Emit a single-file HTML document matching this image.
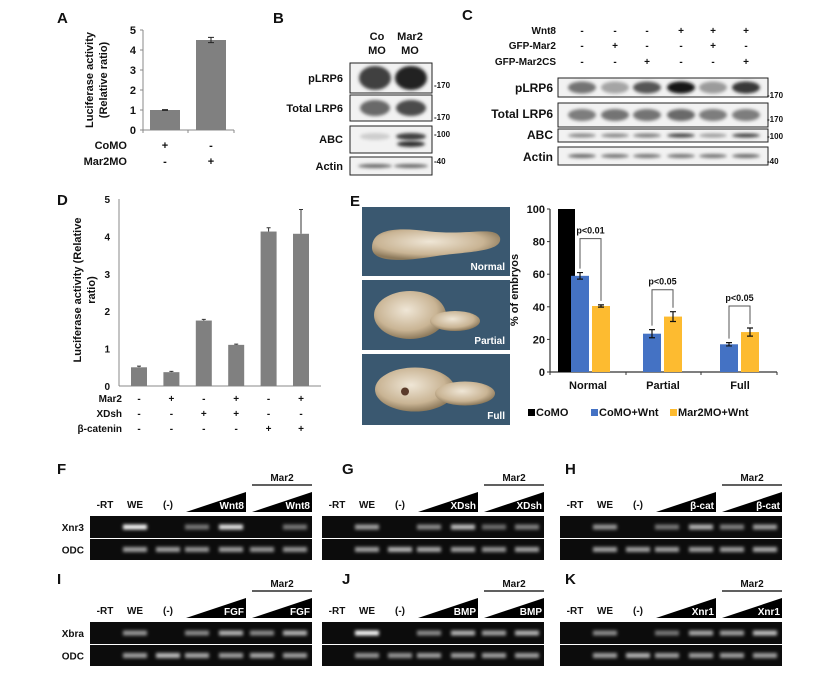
<!DOCTYPE html>
<html><head><meta charset="utf-8"><style>
body{margin:0;background:#fff}
svg{display:block;font-family:"Liberation Sans",Arial,sans-serif;font-weight:bold}
</style></head><body>
<svg id="fig" width="837" height="676" viewBox="0 0 837 676" xmlns="http://www.w3.org/2000/svg">
<defs>
<filter id="blur1" x="-30%" y="-80%" width="160%" height="260%"><feGaussianBlur stdDeviation="1.6"/></filter>
<filter id="blur2" x="-30%" y="-80%" width="160%" height="260%"><feGaussianBlur stdDeviation="1.5"/></filter>
<radialGradient id="emb" cx="45%" cy="40%" r="60%"><stop offset="0" stop-color="#efe6d6"/><stop offset="0.7" stop-color="#c9b494"/><stop offset="1" stop-color="#8d7a5c"/></radialGradient>
</defs>
<g id="panelA"></g>
<g id="panelB"></g>
<g id="panelC"></g>
<g id="panelD"></g>
<g id="panelE"></g>
<g id="gels"></g>
</svg>
<script>
// ---- Panel A data
const aCats = ["CoMO","Mar2MO"];
const aVals = [1.0, 4.5];
const aErr = [0.02, 0.13];
const aTicks = [0,1,2,3,4,5];
// ---- Panel D data
const dVals = [0.5, 0.37, 1.75, 1.1, 4.13, 4.07];
const dErr = [0.03, 0.02, 0.03, 0.02, 0.1, 0.65];
const dTicks = [0,1,2,3,4,5];
const dRows = ["Mar2","XDsh","β-catenin"];
const dSigns = [["-","+","-","+","-","+"],["-","-","+","+","-","-"],["-","-","-","-","+","+"]];
// ---- Panel E data
const eCats = ["Normal","Partial","Full"];
const eSeries = ["CoMO","CoMO+Wnt","Mar2MO+Wnt"];
const eCoMO = [100, null, null];
const eCoWnt = [59, 23.5, 17];
const eMarWnt = [40.5, 34, 24.5];
const eCoWntErr = [2, 2.5, 1];
const eMarWntErr = [0.7, 3, 2.5];
const ePvals = ["p<0.01","p<0.05","p<0.05"];
const eTicks = [0,20,40,60,80,100];
// ---- Gel data (band intensities per lane)
const gelF_top = [0,0.95,0,0.3,0.85,0,0.3];
const gelF_odc = [0,0.5,0.5,0.45,0.5,0.45,0.45];
const gelG_top = [0,0.5,0,0.4,0.65,0.25,0.35];
const gelG_odc = [0,0.5,0.6,0.55,0.5,0.45,0.5];
const gelH_top = [0,0.45,0,0.3,0.6,0.35,0.5];
const gelH_odc = [0,0.5,0.5,0.5,0.5,0.5,0.55];
const gelI_top = [0,0.45,0,0.4,0.6,0.4,0.6];
const gelI_odc = [0,0.5,0.65,0.55,0.5,0.55,0.5];
const gelJ_top = [0,0.95,0,0.4,0.6,0.5,0.6];
const gelJ_odc = [0,0.45,0.45,0.5,0.5,0.5,0.5];
const gelK_top = [0,0.4,0,0.3,0.55,0.5,0.65];
const gelK_odc = [0,0.5,0.6,0.5,0.5,0.5,0.5];
// ---- Western data (band darkness per lane)
const bP = [0.8,0.95]; const bT=[0.6,0.75]; const bA=[0.1,0.8]; const bAct=[0.6,0.6];
const cP = [0.55,0.3,0.7,1.0,0.35,0.85];
const cT = [0.5,0.55,0.55,0.6,0.5,0.5];
const cA = [0.45,0.45,0.5,0.8,0.35,0.8];
const cAct = [0.6,0.55,0.55,0.55,0.55,0.6];
const cWnt = ["-","-","-","+","+","+"];
const cGfp = ["-","+","-","-","+","-"];
const cCs = ["-","-","+","-","-","+"];

const NS="http://www.w3.org/2000/svg";
function mk(parent,tag,attrs,txt){const e=document.createElementNS(NS,tag);for(const k in attrs)e.setAttribute(k,attrs[k]);if(txt!==undefined)e.textContent=txt;parent.appendChild(e);return e;}
function T(parent,x,y,s,size,anchor,name,extra){const e=mk(parent,'text',Object.assign({x:x,y:y,'font-size':size,'text-anchor':anchor||'start',fill:'#111'},extra||{}),s);


return e;}

// ================= Panel A
(function(){
const g=document.getElementById('panelA');
const y0=130, k=20, x0=143;
const yA=v=>y0-k*v;
const xA=i=>165+i*46;
T(g,57,23,"A",15,'start','panel-label-a');
mk(g,'line',{x1:x0,y1:yA(5),x2:x0,y2:y0,stroke:'#888','stroke-width':1});
mk(g,'line',{x1:x0,y1:y0,x2:234,y2:y0,stroke:'#888','stroke-width':1});
aTicks.forEach(t=>{mk(g,'line',{x1:x0-3,y1:yA(t),x2:x0,y2:yA(t),stroke:'#888'});
T(g,x0-7,yA(t)+4,String(t),11,'end','y-tick-label-a');});
[143,188,234].forEach(x=>mk(g,'line',{x1:x,y1:y0,x2:x,y2:y0+3,stroke:'#888'}));
aVals.forEach((v,i)=>{const r=mk(g,'rect',{x:xA(i)-15,y:yA(v),width:30,height:k*v,fill:'#808080'});


const e=aErr[i];mk(g,'path',{d:`M${xA(i)-3},${yA(v+e)}H${xA(i)+3}M${xA(i)},${yA(v+e)}V${yA(v-e)}M${xA(i)-3},${yA(v-e)}H${xA(i)+3}`,stroke:'#222',fill:'none'});});
T(g,0,0,"Luciferase activity",11,'middle','y-axis-title-a',{transform:'translate(93,80) rotate(-90)'});
T(g,0,0,"(Relative ratio)",11,'middle','y-axis-title-a-2',{transform:'translate(107,80) rotate(-90)'});
T(g,127,149,"CoMO",11,'end','row-label-como');T(g,127,165,"Mar2MO",11,'end','row-label-mar2mo');
T(g,xA(0),149,"+",11,'middle','sign');T(g,xA(1),149,"-",11,'middle','sign');
T(g,xA(0),165,"-",11,'middle','sign');T(g,xA(1),165,"+",11,'middle','sign');
})();

function blotBox(g,x,y,w,h,vals,lanes,bw,bh,name,dy){
const r=mk(g,'rect',{x:x,y:y,width:w,height:h,fill:'#f2f2f2',stroke:'#222','stroke-width':1});


vals.forEach((v,i)=>{const c=Math.round(225-200*v);mk(g,'ellipse',{cx:lanes[i],cy:y+h/2+(dy||0),rx:bw/2,ry:bh/2,fill:`rgb(${c},${c},${c})`,filter:'url(#blur2)'});});
}
// ================= Panel B
(function(){
const g=document.getElementById('panelB');
T(g,273,23,"B",15,'start','panel-label-b');
T(g,377,40,"Co",11,'middle','col-label');T(g,377,54,"MO",11,'middle','col-label');
T(g,410,40,"Mar2",11,'middle','col-label');T(g,410,54,"MO",11,'middle','col-label');
const L=[375,411];
blotBox(g,350,63,82,30,bP,L,32,24,'blot-b-plrp6');
blotBox(g,350,95,82,26,bT,L,30,16,'blot-b-total-lrp6');
blotBox(g,350,126,82,27,bA,L,30,7,'blot-b-abc',-3);
mk(g,'ellipse',{cx:411,cy:144,rx:14,ry:3,fill:'#333',filter:'url(#blur2)'});
blotBox(g,350,157,82,18,bAct,L,34,4,'blot-b-actin');
T(g,343,82,"pLRP6",11,'end','row-label');T(g,343,112,"Total LRP6",11,'end','row-label');
T(g,343,143,"ABC",11,'end','row-label');T(g,343,170,"Actin",11,'end','row-label');
[[88,"170"],[120,"170"],[137,"100"],[164,"40"]].forEach(m=>T(g,434,m[0],"-"+m[1],8,'start','mw-marker'));
})();
// ================= Panel C
(function(){
const g=document.getElementById('panelC');
T(g,462,20,"C",15,'start','panel-label-c');
const L=[582,615,647,681,713,746];
T(g,556,34,"Wnt8",10,'end','row-label');T(g,556,49,"GFP-Mar2",10,'end','row-label');T(g,556,65,"GFP-Mar2CS",10,'end','row-label');
L.forEach((x,i)=>{T(g,x,34,cWnt[i],10,'middle','sign');T(g,x,49,cGfp[i],10,'middle','sign');T(g,x,65,cCs[i],10,'middle','sign');});
blotBox(g,558,78,210,19,cP,L,28,12,'blot-c-plrp6');
blotBox(g,558,103,210,24,cT,L,28,12,'blot-c-total-lrp6');
blotBox(g,558,129,210,13,cA,L,28,4,'blot-c-abc');
blotBox(g,558,147,210,18,cAct,L,28,4,'blot-c-actin');
T(g,553,92,"pLRP6",12,'end','row-label');T(g,553,118,"Total LRP6",12,'end','row-label');
T(g,553,139,"ABC",12,'end','row-label');T(g,553,161,"Actin",12,'end','row-label');
[[98,"170"],[122,"170"],[139,"100"],[164,"40"]].forEach(m=>T(g,767,m[0],"-"+m[1],8,'start','mw-marker'));
})();
// ================= Panel D
(function(){
const g=document.getElementById('panelD');
T(g,57,205,"D",15,'start','panel-label-d');
const y0=386,k=37.4,x0=119;
const yD=v=>y0-k*v; const xD=i=>139+i*32.4;
mk(g,'line',{x1:x0,y1:yD(5),x2:x0,y2:y0,stroke:'#888'});
mk(g,'line',{x1:x0,y1:y0,x2:321,y2:y0,stroke:'#888'});
dTicks.forEach(t=>T(g,110,yD(t)+4,String(t),10,'end','y-tick-label-d'));
dVals.forEach((v,i)=>{const r=mk(g,'rect',{x:xD(i)-8,y:yD(v),width:16,height:k*v,fill:'#808080'});


const e=dErr[i];mk(g,'path',{d:`M${xD(i)-2},${yD(v+e)}H${xD(i)+2}M${xD(i)},${yD(v+e)}V${yD(v)}`,stroke:'#333',fill:'none'});});
T(g,0,0,"Luciferase activity (Relative",11,'middle','y-axis-title-d',{transform:'translate(81,290) rotate(-90)'});
T(g,0,0,"ratio)",11,'middle','y-axis-title-d-2',{transform:'translate(95,290) rotate(-90)'});
dRows.forEach((r,j)=>{const y=402+j*15;T(g,122,y,r,10,'end','row-label');dSigns[j].forEach((s,i)=>T(g,xD(i),y,s,10,'middle','sign'));});
})();
// ================= Panel E
(function(){
const g=document.getElementById('panelE');
T(g,350,206,"E",15,'start','panel-label-e');
[[207,69,"Normal"],[280,70,"Partial"],[354,71,"Full"]].forEach((p,i)=>{
const r=mk(g,'rect',{x:362,y:p[0],width:148,height:p[1],fill:'#3a5870'});


const cy=p[0]+p[1]/2;
if(i==0){mk(g,'path',{d:`M372,${cy+6}C372,${cy-14} 400,${cy-14} 430,${cy-10}C470,${cy-6} 495,${cy-16} 500,${cy-4}C503,${cy+10} 470,${cy+10} 440,${cy+14}C405,${cy+20} 372,${cy+22} 372,${cy+6}Z`,fill:'url(#emb)'});}
else if(i==1){mk(g,'ellipse',{cx:410,cy:cy,rx:36,ry:24,fill:'url(#emb)'});mk(g,'ellipse',{cx:455,cy:cy+6,rx:25,ry:10,fill:'url(#emb)'});}
else{mk(g,'ellipse',{cx:415,cy:cy,rx:40,ry:22,fill:'url(#emb)'});mk(g,'ellipse',{cx:465,cy:cy+4,rx:30,ry:12,fill:'url(#emb)'});mk(g,'circle',{cx:405,cy:cy+2,r:4,fill:'#5a3a2a'});}
T(g,505,p[0]+p[1]-6,p[2],10,'end','photo-label',{fill:'#fff'});});
const y0=372,k=1.63,x0=550;
const yE=v=>y0-k*v;
const groupX=[588,663,740], w=18;
mk(g,'line',{x1:x0,y1:yE(100),x2:x0,y2:y0,stroke:'#333','stroke-width':1.2});
mk(g,'line',{x1:x0,y1:y0,x2:777,y2:y0,stroke:'#333','stroke-width':1.2});
eTicks.forEach(t=>{mk(g,'line',{x1:x0-3,y1:yE(t),x2:x0,y2:yE(t),stroke:'#333'});T(g,x0-5,yE(t)+4,String(t),11,'end','y-tick-label-e');});
[550,626,701,777].forEach(x=>mk(g,'line',{x1:x,y1:y0,x2:x,y2:y0+3,stroke:'#333'}));
T(g,0,0,"% of embryos",11,'middle','y-axis-title-e',{transform:'translate(518,290) rotate(-90)'});
eCats.forEach((c,i)=>{
const gx=groupX[i];
T(g,gx,389,c,11,'middle','x-tick-label-e');
let bx;
if(eCoMO[i]!==null){const r=mk(g,'rect',{x:gx-30,y:yE(eCoMO[i]),width:17,height:k*eCoMO[i],fill:'#000'});


bx=[gx-8,gx+13];}
else bx=[gx-11,gx+10];
const sets=[[eCoWnt,eCoWntErr,'#4472c4','como-wnt'],[eMarWnt,eMarWntErr,'#fdbb30','mar2mo-wnt']];
const tops=[];
sets.forEach((s,j)=>{const v=s[0][i],e=s[1][i],cx=bx[j];
const r=mk(g,'rect',{x:cx-w/2,y:yE(v),width:w,height:k*v,fill:s[2]});


mk(g,'path',{d:`M${cx-3},${yE(v+e)}H${cx+3}M${cx},${yE(v+e)}V${yE(v-e)}M${cx-3},${yE(v-e)}H${cx+3}`,stroke:'#111','stroke-width':1.2,fill:'none'});
tops.push([cx,yE(v+e)-4]);});
const by=Math.min(tops[0][1],tops[1][1])-18-(i==0?12:0);
mk(g,'path',{d:`M${tops[0][0]},${tops[0][1]}V${by}H${tops[1][0]}V${tops[1][1]}`,stroke:'#555',fill:'none'});
T(g,(tops[0][0]+tops[1][0])/2,by-5,ePvals[i],9,'middle','p-value-label');});
const cols=['#000','#4472c4','#fdbb30'],lx=[538,601,680];
eSeries.forEach((s,i)=>{const r=mk(g,'rect',{x:lx[i]-10,y:409,width:7,height:7,fill:cols[i]});


T(g,lx[i]-2,416,s,11,'start','legend-entry');});
})();
// ================= Gels
(function(){
const g=document.getElementById('gels');
const offs=[15,45,78,107,141,172,205];
const panels=[
["F",57,474,90,516,"Xnr3","Wnt8",gelF_top,gelF_odc,true],
["G",342,474,322,516,"Xnr3","XDsh",gelG_top,gelG_odc,false],
["H",565,474,560,516,"Xnr3","β-cat",gelH_top,gelH_odc,false],
["I",57,584,90,622,"Xbra","FGF",gelI_top,gelI_odc,true],
["J",342,584,322,622,"Xbra","BMP",gelJ_top,gelJ_odc,false],
["K",565,584,560,622,"Xbra","Xnr1",gelK_top,gelK_odc,false]];
panels.forEach(p=>{
const [lab,lx,ly,bx,by,gene,tr,top,odc,rowLab]=p;
T(g,lx,ly,lab,15,'start','panel-label-'+lab.toLowerCase());
const hy=by-8;
T(g,bx+offs[0],hy,"-RT",10,'middle','lane-label');T(g,bx+offs[1],hy,"WE",10,'middle','lane-label');T(g,bx+offs[2],hy,"(-)",10,'middle','lane-label');
[[bx+96,bx+156],[bx+162,bx+222]].forEach((t,i)=>{
mk(g,'path',{d:`M${t[0]},${by-4}L${t[1]},${by-4}L${t[1]},${by-24}Z`,fill:'#000'});
T(g,t[1]-2,by-7,tr,10,'end','triangle-label',{fill:'#fff'});});
mk(g,'line',{x1:bx+162,y1:by-31,x2:bx+222,y2:by-31,stroke:'#000','stroke-width':1.2});
T(g,bx+192,by-35,"Mar2",10,'middle','mar2-label');
[[by,top,gene,22],[by+23,odc,"ODC",21]].forEach(r=>{
const rr=mk(g,'rect',{x:bx,y:r[0],width:222,height:r[3],fill:'#0c0c0c'});


r[1].forEach((v,i)=>{if(v>0){const c=Math.round(60+195*v);mk(g,'rect',{x:bx+offs[i]-12,y:r[0]+r[3]/2-2.5,width:24,height:5,fill:`rgb(${c},${c},${c})`,filter:'url(#blur1)'});}});
if(rowLab)T(g,bx-6,r[0]+r[3]/2+4,r[2],10,'end','gel-row-label');});
});
})();
</script>
</body></html>
